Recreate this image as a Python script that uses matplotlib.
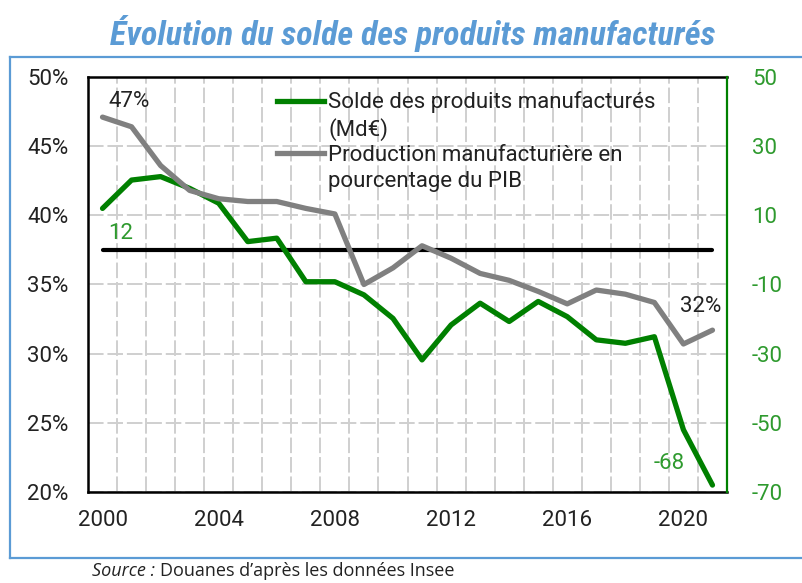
import matplotlib
matplotlib.use("Agg")
from matplotlib import pyplot as plt
from matplotlib.lines import Line2D

years = list(range(2000, 2022))
production_pct = [47.1, 46.4, 43.6, 41.8, 41.2, 41.0, 41.0, 40.5, 40.1, 35.0, 36.2,
                  37.8, 36.9, 35.8, 35.3, 34.5, 33.6, 34.6, 34.3, 33.7, 30.7, 31.7]
solde_mde = [12.0, 20.2, 21.2, 17.8, 13.5, 2.4, 3.4, -9.2, -9.2, -13.0, -19.8,
             -31.8, -21.7, -15.4, -20.7, -14.9, -19.3, -26.0, -27.0, -25.1, -52.0, -68.0]
left_ticks = [20, 25, 30, 35, 40, 45, 50]
right_ticks = [-70, -50, -30, -10, 10, 30, 50]
year_ticks = [2000, 2004, 2008, 2012, 2016, 2020]

BLUE = '#5b9bd5'
GREEN = '#008000'
GREEN_TXT = '#2e9a2e'
GRAY = '#808080'
INK = '#222222'

plt.rcParams['font.family'] = ['Roboto', 'DejaVu Sans']
plt.rcParams['axes.unicode_minus'] = False

fig = plt.figure(figsize=(8.03, 5.83), dpi=100)
ax = fig.add_axes([88 / 803, 1 - 492 / 583, (727 - 88) / 803, (492 - 77) / 583])
ax2 = ax.twinx()

ax.set_xlim(1999.5, 2021.5)
ax.set_ylim(20, 50)
ax.set_yticks(left_ticks)
ax.set_yticklabels([f"{t}%" for t in left_ticks])
ax.set_xticks(year_ticks)
ax.set_xticks([y + 0.5 for y in years[:-1]], minor=True)
ax.tick_params(axis='both', which='both', length=0, labelsize=16, colors=INK)
ax.tick_params(axis='y', pad=14)
ax.tick_params(axis='x', pad=13)
ax.xaxis.grid(True, which='minor', color='#cfcfcf', lw=1.4, ls=(0, (8, 2)))
ax.yaxis.grid(True, which='major', color='#cfcfcf', lw=1.4, ls=(0, (8, 2)))
ax.set_axisbelow(True)
for s in ['left', 'top', 'bottom']:
    ax.spines[s].set_linewidth(1.8)
    ax.spines[s].set_color('black')
ax.spines['right'].set_visible(False)

ax2.set_ylim(-70, 50)
ax2.set_yticks(right_ticks)
ax2.tick_params(axis='y', length=0, labelsize=16, colors=GREEN_TXT)
for tick in ax2.yaxis.get_major_ticks():
    tick.set_pad(18)
for s in ['left', 'top', 'bottom']:
    ax2.spines[s].set_visible(False)
ax2.spines['right'].set_color(GREEN)
ax2.spines['right'].set_linewidth(1.6)

ax2.plot([years[0], years[-1]], [0, 0], color='black', lw=3, solid_capstyle='round', zorder=1)
ax2.plot(years, solde_mde, color=GREEN, lw=3.8, solid_capstyle='round',
         solid_joinstyle='round', zorder=2)
# gray series uses the left (%) scale but sits above the green one
ax2.plot(years, production_pct, color=GRAY, lw=3.8, solid_capstyle='round',
         solid_joinstyle='round', zorder=3, transform=ax.transData)

ax2.text(2000.2, 48.2, '47%', transform=ax.transData, fontsize=16, color=INK,
         ha='left', va='center')
ax2.text(2000.2, 4.7, '12', fontsize=16, color=GREEN_TXT, ha='left', va='center')
ax2.text(2021.3, 33.4, '32%', transform=ax.transData, fontsize=16, color=INK,
         ha='right', va='center')
ax2.text(2020.05, -61.8, '-68', fontsize=16, color=GREEN_TXT, ha='right', va='center')

blank = Line2D([], [], color='none')
handles = [Line2D([], [], color=GREEN, lw=3.8), blank, Line2D([], [], color=GRAY, lw=3.8), blank]
labels = ['Solde des produits manufacturés', '(Md€)', 'Production manufacturière en',
          'pourcentage du PIB']
leg = ax2.legend(handles, labels, loc='upper left', bbox_to_anchor=(0.272, 1.003),
                 frameon=False, fontsize=16, handlelength=2.1, handletextpad=0.2,
                 labelspacing=0.2, borderaxespad=0.3)
for t in leg.get_texts():
    t.set_color(INK)

fig.text(413 / 803, 1 - 33 / 583, 'Évolution du solde des produits manufacturés',
         family=['Roboto Condensed', 'Roboto', 'DejaVu Sans'], fontweight='bold',
         style='italic', fontsize=24.5, color=BLUE, ha='center', va='center')

# blue frame around the chart
fig.add_artist(Line2D([10 / 803, 10 / 803], [1 - 57 / 583, 1 - 558 / 583], color=BLUE, lw=1.6))
fig.add_artist(Line2D([10 / 803, 1.0], [1 - 57 / 583, 1 - 57 / 583], color=BLUE, lw=1.6))
fig.add_artist(Line2D([10 / 803, 1.0], [1 - 558 / 583, 1 - 558 / 583], color=BLUE, lw=1.6))

fig.text(92 / 803, 1 - 571 / 583, 'Source :', family=['Open Sans', 'DejaVu Sans'],
         style='italic', fontsize=13, color=INK, ha='left', va='center')
fig.text(160 / 803, 1 - 571 / 583, 'Douanes d’après les données Insee',
         family=['Open Sans', 'DejaVu Sans'], fontsize=13, color=INK,
         ha='left', va='center')

fig.savefig('out.png', dpi=100)
